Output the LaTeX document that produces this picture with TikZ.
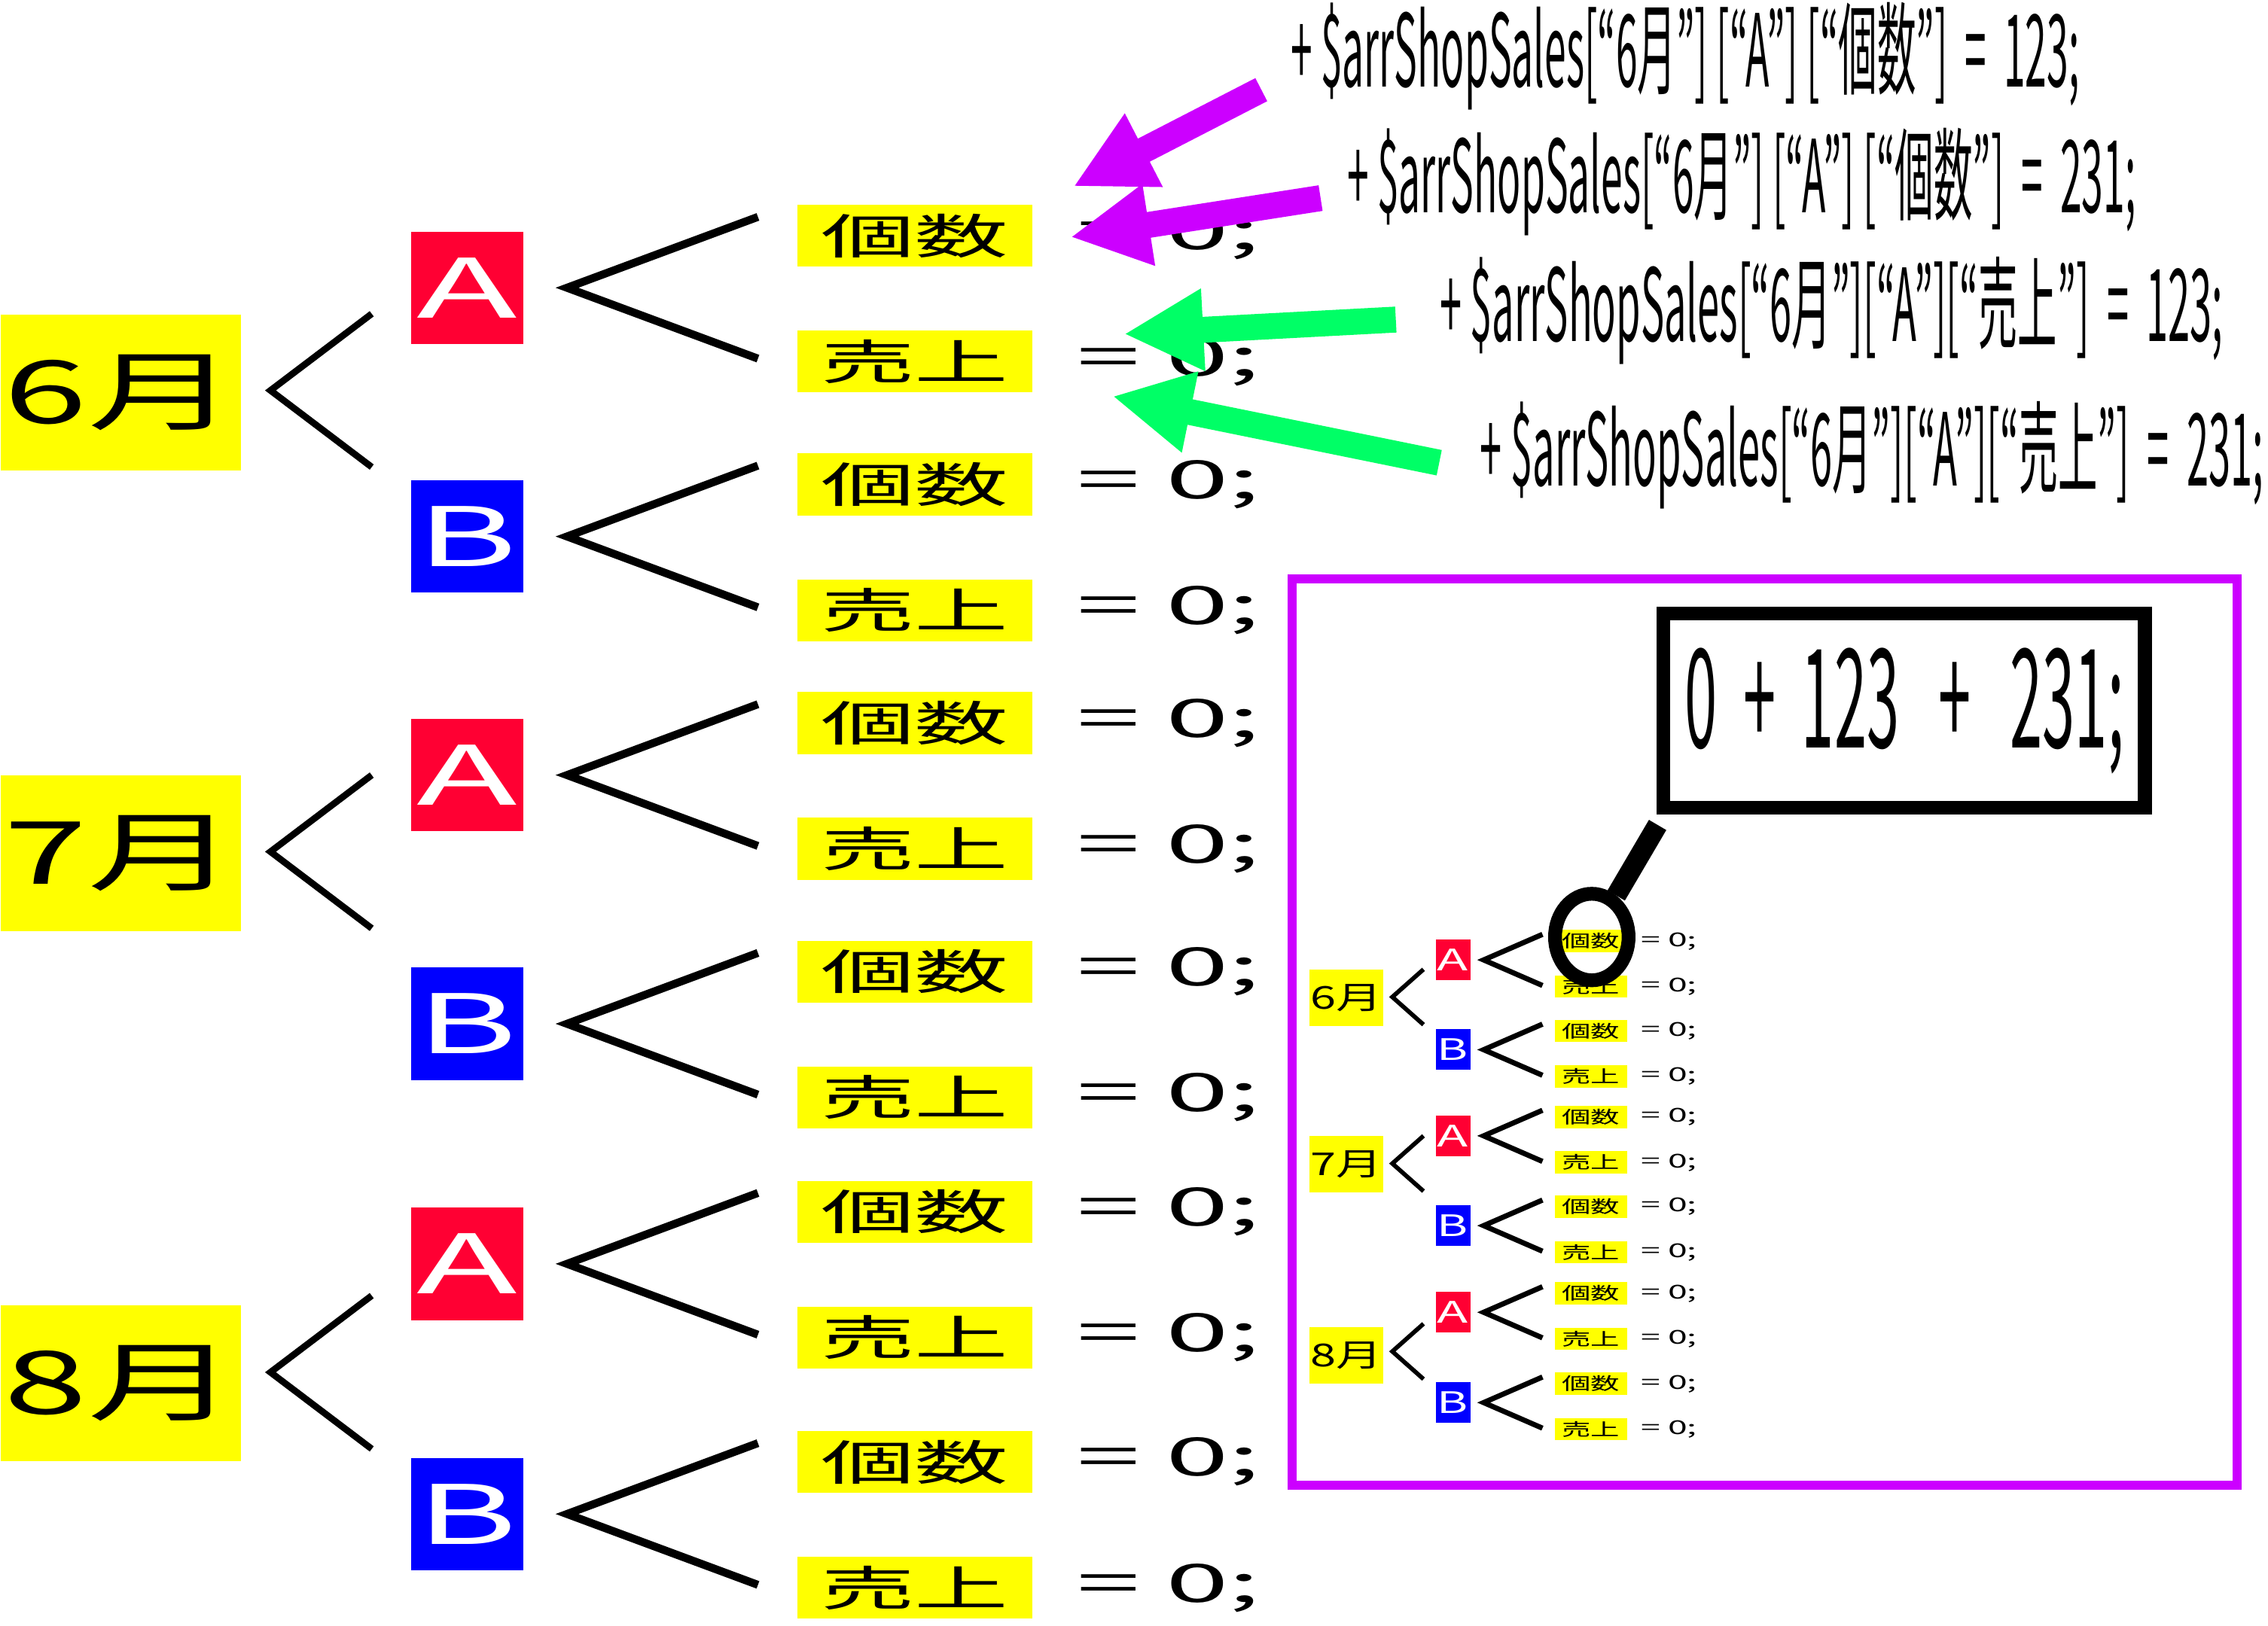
\documentclass[tikz,border=0pt]{standalone}
\usepackage{fontspec}
\setmainfont{Noto Sans CJK JP}
\usepackage{graphicx}
\usetikzlibrary{positioning, arrows.meta, calc, shapes.geometric}

\definecolor{tagyellow}{HTML}{FFFF00}
\definecolor{shopred}{HTML}{FF0033}
\definecolor{shopblue}{HTML}{0000FF}
\definecolor{hintpurple}{HTML}{CC00FF}
\definecolor{hintgreen}{HTML}{00FF66}

\newcommand{\fitw}[2]{\resizebox{#1}{\height}{#2}}

\begin{document}
\begin{tikzpicture}[x=0.1921mm, y=-0.1921mm, >={Triangle[length=30pt,width=29pt]}]
    % Styles
    \tikzstyle{month} = [fill=tagyellow, inner sep=0, minimum width=90.9pt, minimum height=58.8pt, font=\fontsize{33}{33}\selectfont]
    \tikzstyle{shop} = [inner sep=0, minimum size=42.5pt, text=white, font=\fontsize{31}{31}\selectfont]
    \tikzstyle{item} = [fill=tagyellow, inner sep=0, minimum width=88.8pt, minimum height=23.4pt, font=\fontsize{18}{18}\selectfont]
    \tikzstyle{value} = [inner sep=0, font=\fontsize{20}{20}\selectfont]
    \tikzstyle{monthfork} = [line width=\lw*2.5pt]
    \tikzstyle{shopfork} = [line width=\lw*3pt]
    \tikzstyle{code} = [anchor=base west, inner sep=0, font=\fontsize{38}{38}\selectfont]
    \tikzstyle{hint} = [->, line width=9.8pt]

    \useasboundingbox (0,0) rectangle (1568,1124);

    % Tree, full size and again small inside the frame
    \foreach \pfx/\dx/\dy/\sx/\sy/\lw in {b/0/0/1/1/1, s/905/592/0.308/0.361/0.65} {
      \begin{scope}[shift={(\dx,\dy)}, xscale=\sx, yscale=\sy, transform shape, name prefix=\pfx-]
        \foreach \mo/\ym/\yv/\ya/\yb in {6/271.5/270/199/371, 7/590/589/536/708, 8/956.5/949/874/1047} {
          \node [month] (mon\mo) at (83.5,\ym) {\fitw{88pt}{\mo{}月}};
          \draw [monthfork] (257,\yv-53) -- (187,\yv) -- (257,\yv+53);
          \foreach \shp/\yc/\col in {A/\ya/shopred, B/\yb/shopblue} {
            \node [shop, fill=\col] (shop\mo\shp) at (323,\yc) {\fitw{38pt}{\shp}};
            \draw [shopfork] (524,\yc-49) -- (392,\yc) -- (524,\yc+49);
            \foreach \n/\lbl/\dr in {1/個数/-36, 2/売上/51} {
              \node [item] (item\mo\shp\n) at (632.5,\yc+\dr) {\fitw{71pt}{\lbl}};
              \node [value] (val\mo\shp\n) at (808,\yc+\dr) {\fitw{69pt}{= 0;}};
            }
          }
        }
      \end{scope}
    }

    % Frame round the small tree
    \draw [hintpurple, line width=3.4pt] (893.5,400.5) rectangle (1546.5,1027);

    % Sum and lens
    \node [draw, line width=5.2pt, inner sep=0, minimum width=181.9pt, minimum height=73.5pt, font=\fontsize{52}{52}\selectfont] (sum) at (1316.5,491.5) {\fitw{166pt}{0\ \ +\ \ 123\ \ \ +\ \ \ 231;}};
    \node [draw, ellipse, line width=5.2pt, inner sep=0, minimum width=27.8pt, minimum height=32.7pt] (lens) at (1100.5,648) {};
    \coordinate (grip) at (1146,570.5);
    \draw [line width=7.6pt] (lens) -- (grip);

    % Code lines
    \node [code] (line1) at (892,60) {\fitw{298pt}{+ \$arrShopSales[“6月”] [“A”] [“個数”]\ \ =\ \ 123;}};
    \node [code] (line2) at (931,147) {\fitw{298pt}{+ \$arrShopSales[“6月”] [“A”] [“個数”]\ \ =\ \ 231;}};
    \node [code] (line3) at (995,236) {\fitw{296pt}{+ \$arrShopSales[“6月”][“A”][“売上”]\ \ =\ \ 123;}};
    \node [code] (line4) at (1023,336) {\fitw{296pt}{+ \$arrShopSales[“6月”][“A”][“売上”]\ \ =\ \ 231;}};

    % Arrows
    \coordinate (tail1) at (872,62);  \coordinate (tip1) at (742,129);
    \coordinate (tail2) at (913,137); \coordinate (tip2) at (740,164);
    \coordinate (tail3) at (965,221); \coordinate (tip3) at (777,231);
    \coordinate (tail4) at (995,320); \coordinate (tip4) at (769,274);
    \draw [hint, hintpurple] (tail1) -- (tip1);
    \draw [hint, hintpurple] (tail2) -- (tip2);
    \draw [hint, hintgreen] (tail3) -- (tip3);
    \draw [hint, hintgreen] (tail4) -- (tip4);
\end{tikzpicture}
\end{document}
